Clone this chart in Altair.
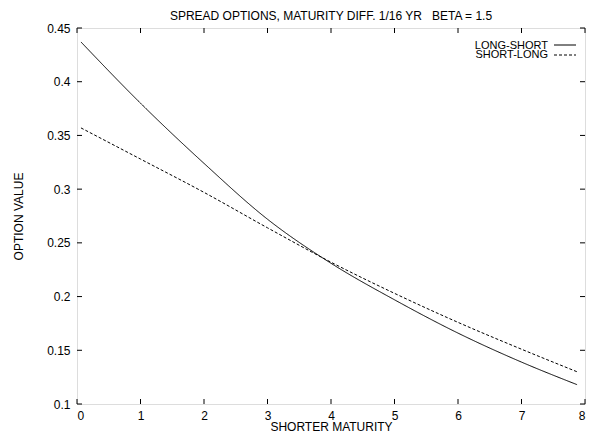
import altair as alt
import pandas as pd

# ---- data ----
maturity = [0.0625, 1, 2, 3, 4, 5, 6, 7, 7.875]
long_short = [0.437, 0.380, 0.324, 0.272, 0.231, 0.197, 0.166, 0.139, 0.118]
short_long = [0.357, 0.328, 0.297, 0.264, 0.232, 0.203, 0.176, 0.151, 0.130]
series_names = ["LONG-SHORT", "SHORT-LONG"]
x_ticks = [0, 1, 2, 3, 4, 5, 6, 7, 8]
y_ticks = [0.1, 0.15, 0.2, 0.25, 0.3, 0.35, 0.4, 0.45]
title_text = "SPREAD OPTIONS, MATURITY DIFF. 1/16 YR\u00a0\u00a0\u00a0BETA = 1.5"

W, H = 508, 376
FONT = "Liberation Sans"
FS = 12
LFS = 11
TICK = 5

rows = []
for name, vals in zip(series_names, [long_short, short_long]):
    for m, v in zip(maturity, vals):
        rows.append({"maturity": m, "value": v, "series": name})
df = pd.DataFrame(rows)

xscale = alt.Scale(domain=[0, 8], nice=False)
yscale = alt.Scale(domain=[0.1, 0.45], nice=False, zero=False)

lines = alt.Chart(df).mark_line(color="black", strokeWidth=1, interpolate="monotone").encode(
    x=alt.X("maturity:Q", scale=xscale,
            axis=alt.Axis(values=x_ticks, format="d", title="SHORTER MATURITY",
                          ticks=False, domain=False, grid=False,
                          labelPadding=6, labelFont=FONT, labelFontSize=FS, labelColor="black",
                          titleFont=FONT, titleFontSize=FS, titleFontWeight="normal", titleColor="black",
                          titleBaseline="middle", titleY=22, titleX=W / 2)),
    y=alt.Y("value:Q", scale=yscale,
            axis=alt.Axis(values=y_ticks, format="~g", title="OPTION VALUE",
                          ticks=False, domain=False, grid=False,
                          labelPadding=7, labelFont=FONT, labelFontSize=FS, labelColor="black",
                          titleFont=FONT, titleFontSize=FS, titleFontWeight="normal", titleColor="black",
                          titleBaseline="middle", titleX=-59, titleY=H / 2)),
    strokeDash=alt.StrokeDash("series:N",
                              scale=alt.Scale(domain=series_names, range=[[1, 0], [3, 2]]),
                              legend=None),
    detail="series:N",
)

xt = pd.DataFrame({"t": x_ticks})
yt = pd.DataFrame({"t": y_ticks})

xb = alt.Chart(xt).mark_rule(color="black", strokeWidth=1).encode(
    x=alt.X("t:Q", scale=xscale), y=alt.value(H), y2=alt.value(H - TICK))
xtop = alt.Chart(xt).mark_rule(color="black", strokeWidth=1).encode(
    x=alt.X("t:Q", scale=xscale), y=alt.value(0), y2=alt.value(TICK))
yl = alt.Chart(yt).mark_rule(color="black", strokeWidth=1).encode(
    y=alt.Y("t:Q", scale=yscale), x=alt.value(0), x2=alt.value(TICK))
yr = alt.Chart(yt).mark_rule(color="black", strokeWidth=1).encode(
    y=alt.Y("t:Q", scale=yscale), x=alt.value(W), x2=alt.value(W - TICK))

title_df = pd.DataFrame({"t": [title_text]})
title_mark = alt.Chart(title_df).mark_text(
    align="center", baseline="middle", font=FONT, fontSize=FS, color="black").encode(
    text="t:N", x=alt.value(W / 2), y=alt.value(-12))

leg_df = pd.DataFrame({"series": series_names})
LX = W - 37
leg1_text = alt.Chart(leg_df).transform_filter(alt.datum.series == series_names[0]).mark_text(
    align="right", baseline="middle", font=FONT, fontSize=LFS, color="black").encode(
    text="series:N", x=alt.value(LX), y=alt.value(17.5))
leg2_text = alt.Chart(leg_df).transform_filter(alt.datum.series == series_names[1]).mark_text(
    align="right", baseline="middle", font=FONT, fontSize=LFS, color="black").encode(
    text="series:N", x=alt.value(LX), y=alt.value(26.5))
leg1_line = alt.Chart(leg_df).transform_filter(alt.datum.series == series_names[0]).mark_rule(
    color="black", strokeWidth=1).encode(
    x=alt.value(LX + 6), x2=alt.value(LX + 28), y=alt.value(17))
leg2_line = alt.Chart(leg_df).transform_filter(alt.datum.series == series_names[1]).mark_rule(
    color="black", strokeWidth=1, strokeDash=[3, 2]).encode(
    x=alt.value(LX + 6), x2=alt.value(LX + 28), y=alt.value(27))

chart = alt.layer(lines, xb, xtop, yl, yr, title_mark,
                  leg1_text, leg2_text, leg1_line, leg2_line).properties(
    width=W, height=H,
    autosize=alt.AutoSizeParams(type="none"),
    padding={"left": 69, "top": 20, "right": 1, "bottom": 28},
).configure_view(stroke="black", strokeWidth=1).configure(background="white")

chart.save("out.html", embed_options={"renderer": "svg", "actions": False})
